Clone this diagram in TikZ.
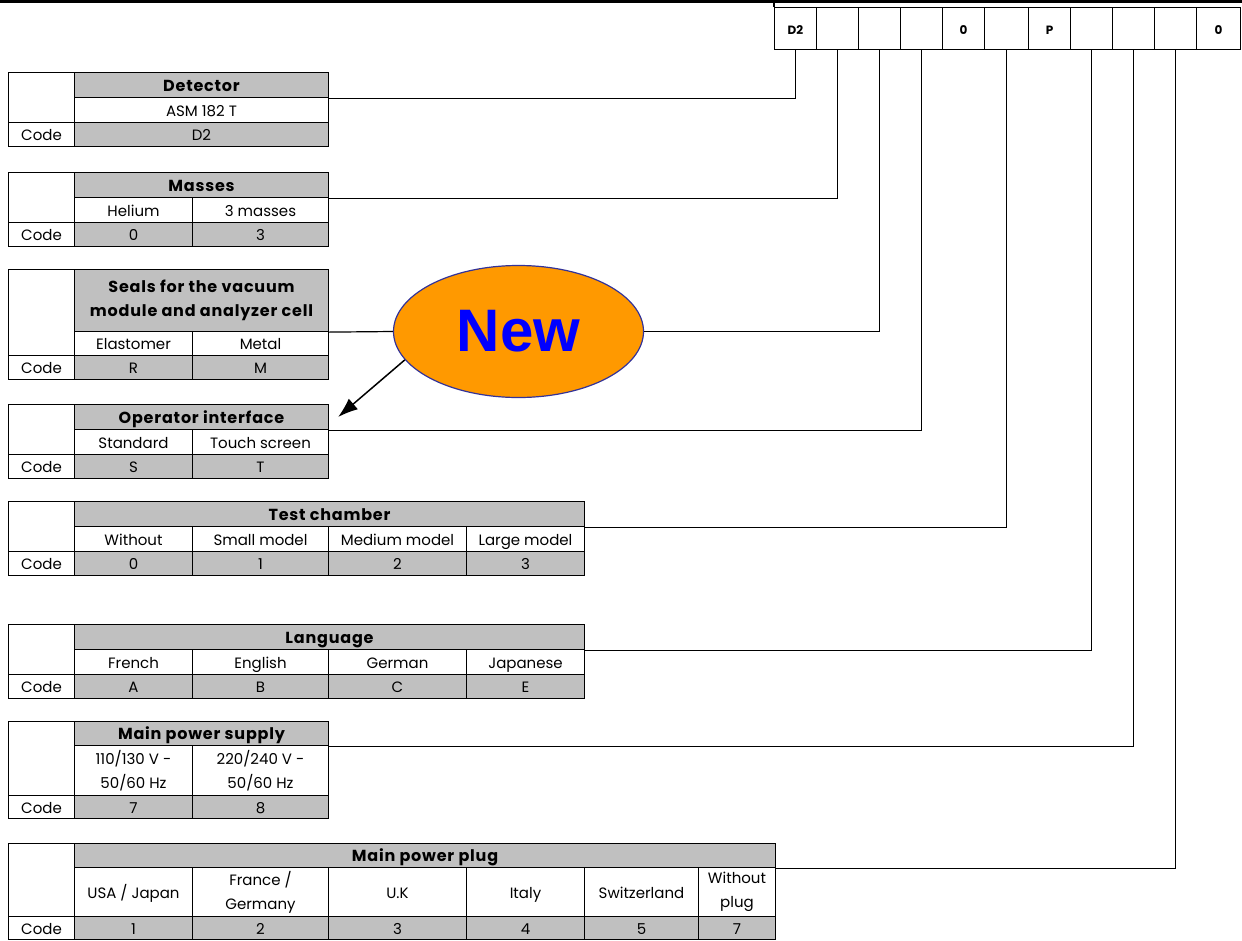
\documentclass[tikz,border=0pt]{standalone}
\usepackage{fontspec}
\setmainfont{Poppins}
\newfontfamily\hdrfont[LetterSpace=5]{Poppins}
\newfontfamily\arialfont{Liberation Sans}
\usetikzlibrary{shapes.geometric, arrows.meta, positioning}
\definecolor{cellgray}{RGB}{192,192,192}
\definecolor{neworange}{RGB}{255,153,0}
\definecolor{newedge}{RGB}{51,51,153}
\tikzset{
  cell/.style={rectangle, draw, line width=1.2pt, inner sep=0pt, align=center, text height=13pt, text depth=0.5pt, font=\fontsize{15}{24}\selectfont},
  hdr/.style={cell, fill=cellgray, font=\hdrfont\fontsize{16}{24}\selectfont\bfseries},
  opt/.style={cell, fill=white},
  cod/.style={cell, fill=cellgray},
  twolines/.style={text height={}, text depth={}},
  slot/.style={cell, fill=white, minimum width=42pt, minimum height=42pt, font=\fontsize{12}{14}\selectfont\bfseries}
}
\begin{document}
\begin{tikzpicture}[x=1pt, y=-1pt, >=Latex, line width=1.2pt]
\useasboundingbox (-0.5,-0.5) rectangle (1241.5,939.5);
\draw[line width=2.5pt] (-0.5,1) -- (1241.5,1);

% Order code: 11 slots
\node[slot] (c1) at (795,28) {D2};
\node[slot] (c2) at (837,28) {};
\node[slot] (c3) at (879,28) {};
\node[slot] (c4) at (921,28) {};
\node[slot] (c5) at (963,28) {0};
\node[slot, minimum width=44pt] (c6) at (1006,28) {};
\node[slot] (c7) at (1049,28) {P};
\node[slot] (c8) at (1091,28) {};
\node[slot] (c9) at (1133,28) {};
\node[slot] (c10) at (1175,28) {};
\node[slot, minimum width=44pt] (c11) at (1218,28) {0};
\draw (c1.north west) -- ++(0,-6);

% Detector
\begin{scope}[yshift=-72pt]
\node[opt, minimum width=66pt, minimum height=50pt] (detB) at (41,25) {};
\node[opt, minimum width=66pt, minimum height=24pt] (detL) at (41,62) {Code};
\node[hdr, minimum width=254pt, minimum height=25pt] (det) at (201,12.5) {Detector};
\node[opt, minimum width=254pt, minimum height=25pt] (detO) at (201,37.5) {ASM 182 T};
\node[cod, minimum width=254pt, minimum height=24pt] (detK) at (201,62) {D2};
\end{scope}

% Masses
\begin{scope}[yshift=-172pt]
\node[opt, minimum width=66pt, minimum height=50pt] (masB) at (41,25) {};
\node[opt, minimum width=66pt, minimum height=24pt] (masL) at (41,62) {Code};
\node[hdr, minimum width=254pt, minimum height=25pt] (mas) at (201,12.5) {Masses};
\node[opt, minimum width=118pt, minimum height=25pt] (masO1) at (133,37.5) {Helium};
\node[opt, minimum width=136pt, minimum height=25pt] (masO2) at (260,37.5) {3 masses};
\node[cod, minimum width=118pt, minimum height=24pt] (masK1) at (133,62) {0};
\node[cod, minimum width=136pt, minimum height=24pt] (masK2) at (260,62) {3};
\end{scope}

% Seals
\begin{scope}[yshift=-269pt]
\node[opt, minimum width=66pt, minimum height=86pt] (sealB) at (41,43) {};
\node[opt, minimum width=66pt, minimum height=24pt] (sealL) at (41,98) {Code};
\node[hdr, twolines, minimum width=254pt, minimum height=62pt] (seal) at (201,31) {Seals for the vacuum\\module and analyzer cell};
\node[opt, minimum width=118pt, minimum height=24pt] (sealO1) at (133,74) {Elastomer};
\node[opt, minimum width=136pt, minimum height=24pt] (sealO2) at (260,74) {Metal};
\node[cod, minimum width=118pt, minimum height=24pt] (sealK1) at (133,98) {R};
\node[cod, minimum width=136pt, minimum height=24pt] (sealK2) at (260,98) {M};
\end{scope}

% Operator interface
\begin{scope}[yshift=-404pt]
\node[opt, minimum width=66pt, minimum height=50pt] (opiB) at (41,25) {};
\node[opt, minimum width=66pt, minimum height=24pt] (opiL) at (41,62) {Code};
\node[hdr, minimum width=254pt, minimum height=25pt] (opi) at (201,12.5) {Operator interface};
\node[opt, minimum width=118pt, minimum height=25pt] (opiO1) at (133,37.5) {Standard};
\node[opt, minimum width=136pt, minimum height=25pt] (opiO2) at (260,37.5) {Touch screen};
\node[cod, minimum width=118pt, minimum height=24pt] (opiK1) at (133,62) {S};
\node[cod, minimum width=136pt, minimum height=24pt] (opiK2) at (260,62) {T};
\end{scope}

% Test chamber
\begin{scope}[yshift=-501pt]
\node[opt, minimum width=66pt, minimum height=50pt] (tchB) at (41,25) {};
\node[opt, minimum width=66pt, minimum height=24pt] (tchL) at (41,62) {Code};
\node[hdr, minimum width=510pt, minimum height=25pt] (tch) at (329,12.5) {Test chamber};
\node[opt, minimum width=118pt, minimum height=25pt] (tchO1) at (133,37.5) {Without};
\node[opt, minimum width=136pt, minimum height=25pt] (tchO2) at (260,37.5) {Small model};
\node[opt, minimum width=138pt, minimum height=25pt] (tchO3) at (397,37.5) {Medium model};
\node[opt, minimum width=118pt, minimum height=25pt] (tchO4) at (525,37.5) {Large model};
\node[cod, minimum width=118pt, minimum height=24pt] (tchK1) at (133,62) {0};
\node[cod, minimum width=136pt, minimum height=24pt] (tchK2) at (260,62) {1};
\node[cod, minimum width=138pt, minimum height=24pt] (tchK3) at (397,62) {2};
\node[cod, minimum width=118pt, minimum height=24pt] (tchK4) at (525,62) {3};
\end{scope}

% Language
\begin{scope}[yshift=-624pt]
\node[opt, minimum width=66pt, minimum height=50pt] (lngB) at (41,25) {};
\node[opt, minimum width=66pt, minimum height=24pt] (lngL) at (41,62) {Code};
\node[hdr, minimum width=510pt, minimum height=25pt] (lng) at (329,12.5) {Language};
\node[opt, minimum width=118pt, minimum height=25pt] (lngO1) at (133,37.5) {French};
\node[opt, minimum width=136pt, minimum height=25pt] (lngO2) at (260,37.5) {English};
\node[opt, minimum width=138pt, minimum height=25pt] (lngO3) at (397,37.5) {German};
\node[opt, minimum width=118pt, minimum height=25pt] (lngO4) at (525,37.5) {Japanese};
\node[cod, minimum width=118pt, minimum height=24pt] (lngK1) at (133,62) {A};
\node[cod, minimum width=136pt, minimum height=24pt] (lngK2) at (260,62) {B};
\node[cod, minimum width=138pt, minimum height=24pt] (lngK3) at (397,62) {C};
\node[cod, minimum width=118pt, minimum height=24pt] (lngK4) at (525,62) {E};
\end{scope}

% Main power supply
\begin{scope}[yshift=-721pt]
\node[opt, minimum width=66pt, minimum height=74pt] (psuB) at (41,37) {};
\node[opt, minimum width=66pt, minimum height=23pt] (psuL) at (41,85.5) {Code};
\node[hdr, minimum width=254pt, minimum height=24pt] (psu) at (201,12) {Main power supply};
\node[opt, twolines, minimum width=118pt, minimum height=50pt] (psuO1) at (133,49) {110/130 V -\\50/60 Hz};
\node[opt, twolines, minimum width=136pt, minimum height=50pt] (psuO2) at (260,49) {220/240 V -\\50/60 Hz};
\node[cod, minimum width=118pt, minimum height=23pt] (psuK1) at (133,85.5) {7};
\node[cod, minimum width=136pt, minimum height=23pt] (psuK2) at (260,85.5) {8};
\end{scope}

% Main power plug
\begin{scope}[yshift=-843pt]
\node[opt, minimum width=66pt, minimum height=73pt] (plgB) at (41,36.5) {};
\node[opt, minimum width=66pt, minimum height=23pt] (plgL) at (41,84.5) {Code};
\node[hdr, minimum width=701pt, minimum height=24pt] (plg) at (424.5,12) {Main power plug};
\node[opt, minimum width=118pt, minimum height=49pt] (plgO1) at (133,48.5) {USA / Japan};
\node[opt, twolines, minimum width=136pt, minimum height=49pt] (plgO2) at (260,48.5) {France /\\Germany};
\node[opt, minimum width=138pt, minimum height=49pt] (plgO3) at (397,48.5) {U.K};
\node[opt, minimum width=118pt, minimum height=49pt] (plgO4) at (525,48.5) {Italy};
\node[opt, minimum width=114pt, minimum height=49pt] (plgO5) at (641,48.5) {Switzerland};
\node[opt, twolines, minimum width=77pt, minimum height=49pt] (plgO6) at (736.5,48.5) {Without\\plug};
\node[cod, minimum width=118pt, minimum height=23pt] (plgK1) at (133,84.5) {1};
\node[cod, minimum width=136pt, minimum height=23pt] (plgK2) at (260,84.5) {2};
\node[cod, minimum width=138pt, minimum height=23pt] (plgK3) at (397,84.5) {3};
\node[cod, minimum width=118pt, minimum height=23pt] (plgK4) at (525,84.5) {4};
\node[cod, minimum width=114pt, minimum height=23pt] (plgK5) at (641,84.5) {5};
\node[cod, minimum width=77pt, minimum height=23pt] (plgK6) at (736.5,84.5) {7};
\end{scope}

% New badge
\node[ellipse, draw=newedge, fill=neworange, line width=1.2pt, minimum width=250pt, minimum height=132pt, inner sep=0pt, text=blue, font=\arialfont\bfseries\fontsize{60}{62}\selectfont] (new) at (518,331) {New};

% Connectors to the order code
\draw (det.south east) -| (c1.south);
\draw (mas.south east) -| (c2.south);
\draw (seal.south east) -- (new.west);
\draw (new.east) -| (c3.south);
\draw (opi.south east) -| (c4.south);
\draw (tch.south east) -| (c6.south);
\draw (lng.south east) -| (c8.south);
\draw (psu.south east) -| (c9.south);
\draw (plg.south east) -| (c10.south);
% New points to the operator interface
\draw[-{Latex[length=20pt,width=14pt]}, line width=1.5pt] (new.194) -- ([xshift=9pt]opi.east);
\end{tikzpicture}
\end{document}
